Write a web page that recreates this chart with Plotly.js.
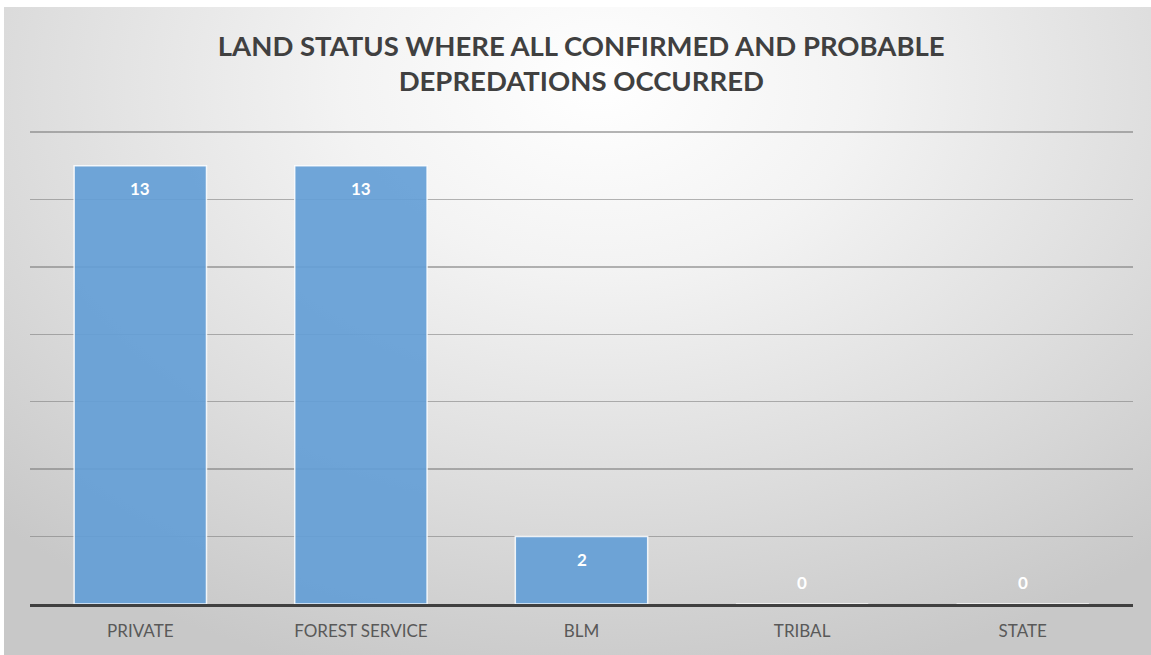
<!DOCTYPE html>
<html>
<head>
<meta charset="utf-8">
<script src="https://cdn.plot.ly/plotly-3.0.1.min.js"></script>
<style>
  html, body { margin: 0; padding: 0; background: #ffffff; width: 1151px; height: 655px; overflow: hidden; }
  #bg { position: absolute; left: 4px; top: 7px; width: 1147px; height: 648px;
        background: radial-gradient(ellipse 75% 95% at 52% 12%, #ffffff 0%, #f3f3f3 30%, #dedede 65%, #c8c8c8 100%); }
  #chart { position: absolute; left: 0; top: 0; width: 1151px; height: 655px; }
</style>
</head>
<body>
<div id="bg"></div>
<div id="chart"></div>
<script>
const categories = ["PRIVATE", "FOREST SERVICE", "BLM", "TRIBAL", "STATE"];
const values = [13, 13, 2, 0, 0];
const chartTitle = "LAND STATUS WHERE ALL CONFIRMED AND PROBABLE<br>DEPREDATIONS OCCURRED";

const trace = {
  type: "bar",
  x: categories,
  y: values,
  marker: { color: "rgba(100,158,214,0.92)", line: { color: "rgba(255,255,255,0.85)", width: 1.5 } },
  hoverinfo: "skip"
};

const annotations = categories.map((c, i) => ({
  x: c, y: values[i], xref: "x", yref: "y",
  text: String(values[i]),
  showarrow: false,
  yanchor: "middle",
  yshift: values[i] > 0 ? -23 : 22,
  font: { family: "Lato, 'Open Sans', sans-serif", size: 17, color: "#ffffff", weight: 700 }
}));

const layout = {
  width: 1151, height: 655,
  paper_bgcolor: "rgba(0,0,0,0)",
  plot_bgcolor: "rgba(0,0,0,0)",
  margin: { l: 30, r: 18, t: 129, b: 51 },
  bargap: 0.4,
  showlegend: false,
  title: {
    text: chartTitle,
    x: 0.505, xanchor: "center",
    y: 0.915, yanchor: "top",
    font: { family: "Lato, 'Open Sans', sans-serif", size: 27.5, color: "#404040", weight: 700 }
  },
  xaxis: {
    type: "category",
    showline: true, linecolor: "#404040", linewidth: 2.5,
    ticks: "", showgrid: false, zeroline: false,
    tickfont: { family: "Lato, 'Open Sans', sans-serif", size: 17, color: "#595959" },
    ticklabelstandoff: 10,
    fixedrange: true
  },
  yaxis: {
    range: [0, 14.09], dtick: 2, tick0: 0,
    showticklabels: false, ticks: "",
    showgrid: true, gridcolor: "rgba(120,120,120,0.55)", gridwidth: 1.5,
    zeroline: false, showline: false,
    fixedrange: true
  },
  annotations: annotations
};

Plotly.newPlot("chart", [trace], layout, { displayModeBar: false, staticPlot: true });
</script>
</body>
</html>
